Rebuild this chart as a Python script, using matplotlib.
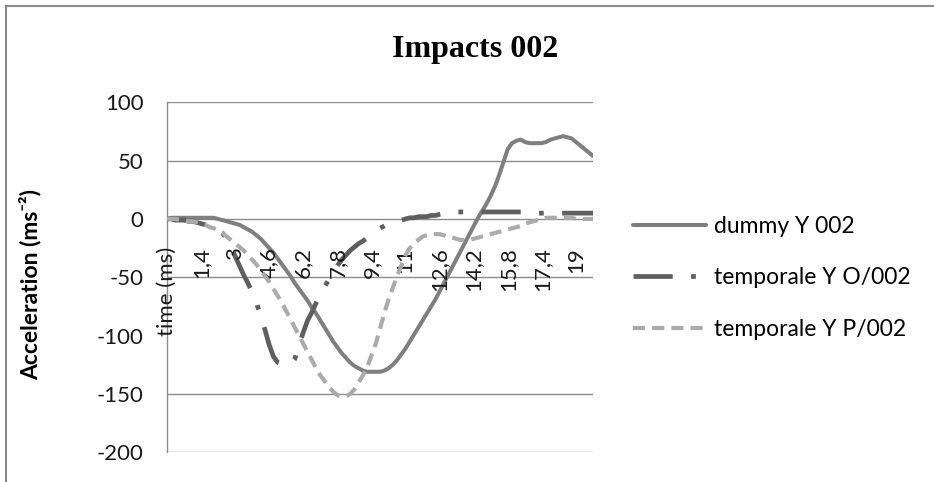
import matplotlib
matplotlib.use("Agg")
import matplotlib.pyplot as plt
import matplotlib.lines as lines
import numpy as np

plt.rcParams['font.family'] = ['Lato', 'DejaVu Sans']
plt.rcParams['axes.unicode_minus'] = False

# time axis: header row first, then 0,0 .. 19,8 ms in 0,2 steps
times = [round(0.2 * k, 1) for k in range(100)]
categories = ["time (ms)"] + [f"{t:g}".replace('.', ',') for t in times]

dummy_y = [0,
           1, 1, 1, 1, 1, 1, 1, 1, 1, 1,
           1, 0, -1, -2, -3, -4, -5, -7, -9, -11,
           -14, -17, -21, -25, -29, -34, -39, -44, -49, -55,
           -60, -65, -70, -76, -81, -87, -93, -99, -105, -110,
           -115, -119, -123, -126, -128, -130, -131, -131, -131, -131,
           -130, -128, -125, -121, -116, -111, -105, -99, -93, -87,
           -81, -75, -69, -62, -55, -48, -41, -34, -27, -20,
           -13, -6, 1, 7, 13, 20, 28, 38, 49, 60,
           65, 67, 68, 66, 65, 65, 65, 65, 66, 68,
           69, 70, 71, 70, 69, 66, 63, 60, 57, 54]

temporale_o = [0,
               0, -1, -1, -1, -2, -2, -3, -4, -5, -6,
               -8, -10, -12, -17, -24, -32, -40, -48, -55, -63,
               -72, -83, -95, -108, -118, -123, -124, -125, -125, -120,
               -108, -97, -87, -80, -72, -65, -58, -52, -46, -40,
               -35, -31, -27, -24, -21, -19, -16, -13, -11, -8,
               -6, -4, -3, -2, -1, 0, 1, 1, 2, 2,
               2, 3, 3, 4, 5, 5, 6, 6, 6, 6,
               6, 6, 6, 6, 6, 6, 6, 6, 6, 6,
               6, 6, 6, 6, 6, 5, 5, 5, 5, 5,
               5, 5, 5, 5, 5, 5, 5, 5, 5, 5]

temporale_p = [0,
               0, 0, -1, -1, -2, -2, -3, -4, -5, -7,
               -8, -10, -12, -15, -18, -21, -24, -27, -31, -35,
               -39, -44, -49, -54, -60, -66, -72, -79, -86, -93,
               -100, -107, -114, -121, -128, -134, -139, -144, -148, -151,
               -152, -152, -150, -146, -140, -134, -127, -117, -107, -94,
               -81, -69, -59, -49, -40, -31, -25, -21, -18, -15,
               -14, -13, -13, -13, -14, -15, -16, -17, -18, -18,
               -18, -17, -16, -15, -14, -13, -12, -11, -10, -9,
               -8, -7, -6, -4, -3, -2, -1, 0, 1, 1,
               1, 1, 1, 1, 1, 0, 0, 0, 0, 0]

series_names = ["dummy Y 002", "temporale Y O/002", "temporale Y P/002"]
y_ticks = [100, 50, 0, -50, -100, -150, -200]
grid_levels = [100, 50, 0, -50, -150, -200]
label_step = 8

fig = plt.figure(figsize=(9.34, 4.82), dpi=100)
ax = fig.add_axes([167 / 934, 29.7 / 482, 426 / 934, 350 / 482])

x = np.arange(len(categories))
ax.set_xlim(0, len(categories) - 1)
ax.set_ylim(-200, 100)

# horizontal gridlines
for v in grid_levels:
    ax.axhline(v, color='#8c8c8c', lw=1, zorder=0)

ax.plot(x, dummy_y, color='#7f7f7f', lw=2.9, solid_joinstyle='round',
        solid_capstyle='round', label=series_names[0], zorder=2)
ax.plot(x, temporale_o, color='#5f5f5f', lw=3.4, ls=(0, (8.3, 3.9, 1, 3.9)),
        dash_capstyle='butt', label=series_names[1], zorder=3)
ax.plot(x, temporale_p, color='#ababab', lw=3.0, ls=(0, (2.9, 1.7)),
        dash_capstyle='butt', label=series_names[2], zorder=4)

# y axis
ax.set_yticks(y_ticks)
ax.set_xticks([])
ax.tick_params(axis='y', length=0, pad=17, labelsize=16, labelcolor='#1a1a1a')
for side in ['top', 'right', 'bottom']:
    ax.spines[side].set_visible(False)
ax.spines['left'].set_color('#8c8c8c')
ax.spines['left'].set_linewidth(1)

# category labels hang under the zero line
for i, lab in enumerate(categories):
    if i % label_step == 0:
        ax.text(i, -24, lab, rotation=90, ha='center', va='top',
                fontsize=16, color='#1a1a1a')

ax.legend(loc='center left', bbox_to_anchor=(633 / 934, 1 - 278 / 482),
          bbox_transform=fig.transFigure, frameon=False, fontsize=16.5,
          handlelength=3.2, handletextpad=0.35, labelspacing=1.35,
          borderpad=0, borderaxespad=0)

fig.text(475 / 934, 1 - 50 / 482, 'Impacts 002', ha='center', va='center',
         fontsize=23, fontweight='bold', family='Liberation Serif')
fig.text(30 / 934, 1 - 285 / 482, 'Acceleration (ms\u207b\u00b2)', rotation=90,
         ha='center', va='center', fontsize=16.5, fontweight='bold')

# outer chart frame
fig.add_artist(lines.Line2D([6 / 934, 6 / 934], [0, 1 - 6 / 482],
                            transform=fig.transFigure, color='#8a8a8a', lw=1.5))
fig.add_artist(lines.Line2D([6 / 934, 1], [1 - 6 / 482, 1 - 6 / 482],
                            transform=fig.transFigure, color='#8a8a8a', lw=1.5))

fig.savefig('out.png', dpi=100)
